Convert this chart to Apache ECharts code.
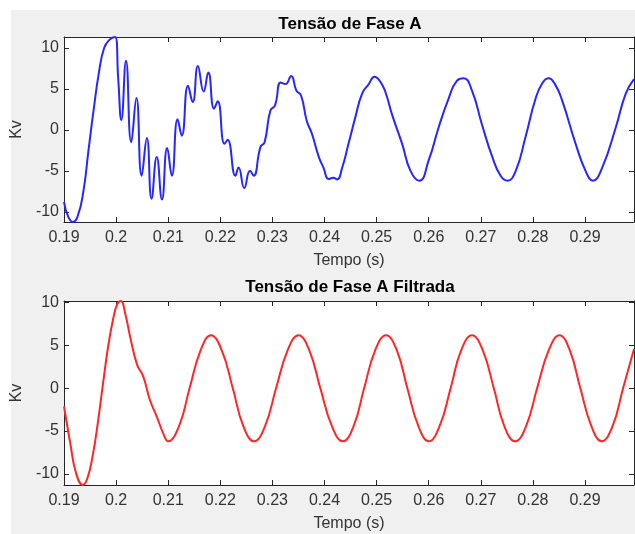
<!DOCTYPE html>
<html><head><meta charset="utf-8">
<script src="https://cdn.jsdelivr.net/npm/echarts@6/dist/echarts.min.js"></script>
<style>html,body{margin:0;padding:0;background:#fff}#c{width:635px;height:534px}</style>
</head><body><div id="c"></div>
<script>
const xTicks = [0.19, 0.2, 0.21, 0.22, 0.23, 0.24, 0.25, 0.26, 0.27, 0.28, 0.29];
const yTicks = [-10, -5, 0, 5, 10];
const titleA = 'Tensão de Fase A';
const titleF = 'Tensão de Fase A Filtrada';
const xName = 'Tempo (s)';
const yName = 'Kv';

const tempoA = [
  0.1900, 0.1908, 0.1917, 0.1926, 0.1937, 0.1947, 0.1957, 0.1967, 0.1977, 0.1987,
  0.1998, 0.2004, 0.2010, 0.2019, 0.2029, 0.2039, 0.2049, 0.2059, 0.2068,
  0.2078, 0.2088, 0.2098, 0.2107, 0.2118, 0.2126, 0.2138, 0.2147, 0.2157, 0.2168,
  0.2177, 0.2188, 0.2195, 0.2208, 0.2214, 0.2229, 0.2235, 0.2246, 0.2257, 0.2264,
  0.2277, 0.2285, 0.2296, 0.2305, 0.2316, 0.2325, 0.2336, 0.2346, 0.2355, 0.2366,
  0.2376, 0.2389, 0.2398, 0.2408, 0.2417, 0.2424, 0.2434, 0.2446, 0.2459, 0.2472,
  0.2485, 0.2496, 0.2507, 0.2517, 0.2530, 0.2549, 0.2565, 0.2582, 0.2600, 0.2619,
  0.2638, 0.2654, 0.2667, 0.2683, 0.2702, 0.2722, 0.2738, 0.2751, 0.2767, 0.2786,
  0.2805, 0.2818, 0.2830, 0.2843, 0.2856, 0.2882, 0.2901, 0.2915, 0.2933, 0.2959,
  0.2978, 0.2994
];
const faseA = [
  -8.8, -10.6, -11.25, -10.6, -7.6, -2.5, 2.5, 7.0, 10.0, 11.0,
  11.35, 6.3, 1.2, 8.45, -1.5, 3.9, -5.6, -1.0, -8.4,
  -3.3, -8.5, -2.2, -5.6, 1.3, -0.7, 5.4, 3.4, 7.8, 4.7,
  7.0, 2.6, 3.5, -1.7, -1.2, -5.6, -4.6, -7.1, -5.0, -5.6,
  -2.1, -1.5, 2.35, 3.0, 5.8, 5.6, 6.6, 4.8, 4.2, 1.1,
  -0.5, -3.3, -4.6, -6.0, -5.85, -6.05, -4.6, -1.7, 1.5, 4.4,
  5.6, 6.5, 5.9, 4.6, 1.8, -1.7, -5.0, -6.2, -3.7, 0.3,
  3.8, 6.0, 6.3, 4.8, 0.7, -3.3, -5.6, -6.2, -5.0, -0.8,
  3.8, 5.7, 6.3, 5.5, 3.6, -1.7, -5.0, -6.2, -4.6, 0.3,
  4.4, 6.2
];

const tempoF = [
  0.1900, 0.1912, 0.1923, 0.1936, 0.1945, 0.1955, 0.1965, 0.1975, 0.1985, 0.1995,
  0.2002, 0.2009, 0.2018, 0.2027, 0.2040, 0.2052, 0.2065, 0.2078, 0.2090, 0.2100,
  0.2121, 0.2141, 0.2162, 0.2182, 0.2203, 0.2224, 0.2244, 0.2265, 0.2286, 0.2307,
  0.2329, 0.2350, 0.2371, 0.2392, 0.2414, 0.2435, 0.2456, 0.2476, 0.2497, 0.2518,
  0.2539, 0.2559, 0.2580, 0.2600, 0.2621, 0.2642, 0.2662, 0.2683, 0.2704, 0.2725,
  0.2745, 0.2766, 0.2787, 0.2808, 0.2830, 0.2851, 0.2871, 0.2891, 0.2912, 0.2932,
  0.2953, 0.2973, 0.2994
];
const faseF = [
  -2.1, -6.4, -9.9, -11.3, -10.5, -7.9, -4.0, 0.6, 5.0, 8.3,
  9.8, 10.2, 8.6, 6.0, 2.8, 1.4, -1.4, -3.3, -5.2, -6.2,
  -4.4, 0.0, 4.4, 6.2, 4.4, 0.0, -4.4, -6.2, -4.4, 0.0,
  4.4, 6.2, 4.4, 0.0, -4.4, -6.2, -4.4, 0.0, 4.4, 6.2,
  4.4, 0.0, -4.4, -6.2, -4.4, 0.0, 4.4, 6.2, 4.4, 0.0,
  -4.4, -6.2, -4.4, 0.0, 4.4, 6.2, 4.4, 0.0, -4.4, -6.2,
  -4.4, 0.0, 4.6
];

const FONT = "'Liberation Sans', Arial, Helvetica, sans-serif";
const AXC = '#262626';
const TXT = '#333333';

function mkX(gi, pos, withLabels) {
  return {
    type: 'value', gridIndex: gi, position: pos, min: 0.19, max: 0.2994,
    axisLine: { show: true, onZero: false, lineStyle: { color: AXC, width: 1 } },
    axisTick: { show: true, inside: true, length: 5, customValues: xTicks, lineStyle: { color: AXC } },
    axisLabel: { show: withLabels, customValues: xTicks, margin: 8, fontSize: 16, color: TXT, fontFamily: FONT,
      formatter: v => String(+(+v).toFixed(2)) },
    splitLine: { show: false },
    name: withLabels ? xName : '', nameLocation: 'middle', nameGap: 31,
    nameTextStyle: { fontSize: 16, color: TXT, fontFamily: FONT }
  };
}
function mkY(gi, pos, withLabels, mn, mx) {
  return {
    type: 'value', gridIndex: gi, position: pos, min: mn, max: mx,
    axisLine: { show: true, onZero: false, lineStyle: { color: AXC, width: 1 } },
    axisTick: { show: true, inside: true, length: 5, customValues: yTicks, lineStyle: { color: AXC } },
    axisLabel: { show: withLabels, customValues: yTicks, margin: 5, fontSize: 16, color: TXT, fontFamily: FONT },
    splitLine: { show: false },
    name: withLabels ? yName : '', nameLocation: 'middle', nameGap: 32, nameRotate: 90,
    nameTextStyle: { fontSize: 16, color: TXT, fontFamily: FONT }
  };
}

const chart = echarts.init(document.getElementById('c'));
chart.setOption({
  backgroundColor: '#f0f0f0',
  animation: false,
  graphic: [
    { type: 'rect', shape: { x: 0, y: 0, width: 635, height: 10 }, style: { fill: '#ffffff' }, silent: true },
    { type: 'rect', shape: { x: 0, y: 0, width: 11, height: 534 }, style: { fill: '#ffffff' }, silent: true },
    { type: 'text', x: 350, y: 24, style: { text: titleA, align: 'center', verticalAlign: 'middle', font: 'bold 17px ' + FONT, fill: '#000' } },
    { type: 'text', x: 350, y: 287, style: { text: titleF, align: 'center', verticalAlign: 'middle', font: 'bold 17px ' + FONT, fill: '#000' } }
  ],
  grid: [
    { left: 64, top: 37, width: 570, height: 185, show: true, backgroundColor: '#ffffff', borderWidth: 0 },
    { left: 64, top: 301, width: 570, height: 184, show: true, backgroundColor: '#ffffff', borderWidth: 0 }
  ],
  xAxis: [ mkX(0, 'bottom', true), mkX(0, 'top', false), mkX(1, 'bottom', true), mkX(1, 'top', false) ],
  yAxis: [ mkY(0, 'left', true, -11.25, 11.35), mkY(0, 'right', false, -11.25, 11.35),
           mkY(1, 'left', true, -11.3, 10.2), mkY(1, 'right', false, -11.3, 10.2) ],
  series: [
    { type: 'line', xAxisIndex: 0, yAxisIndex: 0, data: tempoA.map((t, i) => [t, faseA[i]]),
      showSymbol: false, smooth: 0.5, lineStyle: { color: '#2626ff', width: 2 } },
    { type: 'line', xAxisIndex: 2, yAxisIndex: 2, data: tempoF.map((t, i) => [t, faseF[i]]),
      showSymbol: false, smooth: 0.45, lineStyle: { color: '#ff2626', width: 2 } }
  ]
});
</script>
</body></html>
